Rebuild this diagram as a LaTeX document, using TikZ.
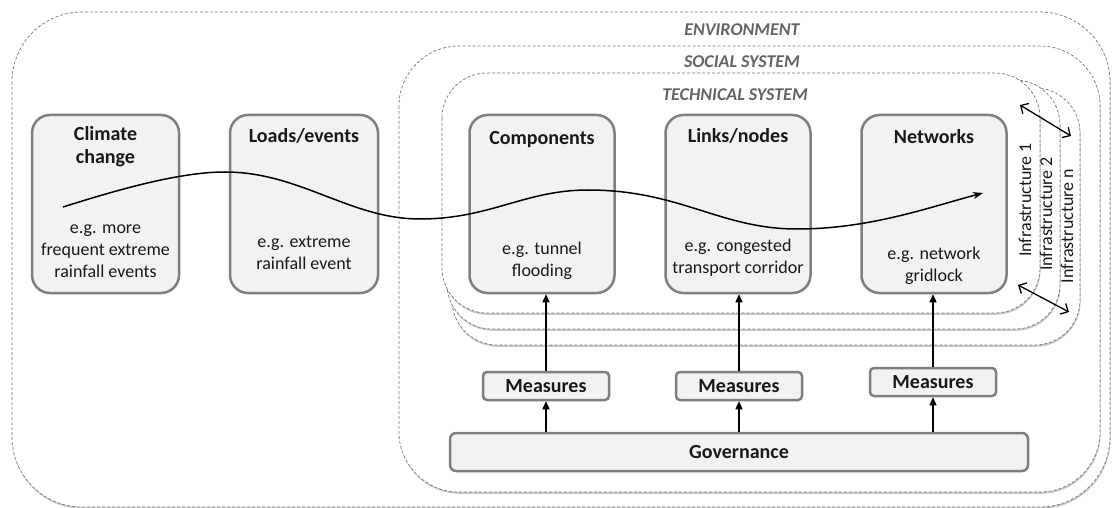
\documentclass[tikz,border=0pt]{standalone}
\usepackage{fontspec}
\setmainfont{Carlito}
\usetikzlibrary{arrows.meta,shadows,calc}
\definecolor{boxline}{RGB}{127,127,127}
\definecolor{boxfill}{RGB}{242,242,242}
\definecolor{dashc}{RGB}{120,120,120}
\definecolor{labc}{RGB}{100,100,100}
\definecolor{txtc}{RGB}{25,25,25}
\begin{document}
\begin{tikzpicture}[x=1pt,y=-1pt,
  sysbox/.style={draw=dashc, dash pattern=on 3pt off 2pt, line width=0.7pt, fill=white,
    drop shadow={shadow xshift=0.6pt, shadow yshift=-1.8pt, fill=black, opacity=0.22}},
  syslab/.style={font=\fontsize{18}{22}\selectfont\bfseries\itshape, text=labc},
  cbox/.style={draw=boxline, line width=2.5pt, fill=boxfill, rounded corners=18pt, minimum width=145pt, minimum height=178pt, inner sep=0pt},
  mbox/.style={draw=boxline, line width=2.5pt, fill=boxfill, rounded corners=4pt, minimum width=126pt, minimum height=28pt, inner sep=0pt, font=\fontsize{20}{22}\selectfont\bfseries, text=txtc},
  ttl/.style={font=\fontsize{20}{23}\selectfont\bfseries, align=center, text=txtc, inner sep=0pt},
  body/.style={font=\fontsize{18}{22}\selectfont, align=center, text=txtc, inner sep=0pt},
  inflab/.style={font=\fontsize{18}{22}\selectfont, text=txtc, rotate=90, inner sep=0pt},
  arr/.style={line width=1.3pt, -{Triangle[length=8pt,width=7pt]}},
  dbl/.style={line width=1.3pt, {Straight Barb[length=6pt,width=12pt]}-{Straight Barb[length=6pt,width=12pt]}}
]
\useasboundingbox (0,0) rectangle (1112,508);
\fill[white] (0,0) rectangle (1112,508);

% system envelopes
\draw[sysbox, rounded corners=70pt] (12,12) rectangle (1110,507);
\draw[sysbox, rounded corners=60pt] (399,46) rectangle (1100,492);
\draw[sysbox, rounded corners=45pt] (452,88) rectangle (1080,345);
\draw[sysbox, rounded corners=45pt] (447,80) rectangle (1060,329);
\draw[sysbox, rounded corners=45pt] (442,73) rectangle (1040,313);

\node[syslab] (envlab) at (742,30) {ENVIRONMENT};
\node[syslab] (soclab) at (742,62) {SOCIAL SYSTEM};
\node[syslab] (teclab) at (735,95) {TECHNICAL SYSTEM};

% main boxes
\node[cbox, minimum width=147pt] (cc) at (105.5,204) {};
\node[cbox, minimum width=148pt] (le) at (304,204) {};
\node[cbox] (co) at (542,204) {};
\node[cbox] (ln) at (738,204) {};
\node[cbox] (nw) at (934,204) {};

\node[ttl] (cct) at (105.5,147) {Climate\\change};
\node[body] (ccb) at (105.5,251) {e.g. more\\frequent extreme\\rainfall events};
\node[ttl] (let) at (304,136) {Loads/events};
\node[body] (leb) at (304,253) {e.g. extreme\\rainfall event};
\node[ttl] (cot) at (542,140) {Components};
\node[body] (cob) at (542,261) {e.g. tunnel\\flooding};
\node[ttl] (lnt) at (738,136) {Links/nodes};
\node[body] (lnb) at (738,258) {e.g. congested\\transport corridor};
\node[ttl] (nwt) at (934,137) {Networks};
\node[body] (nwb) at (934,266) {e.g. network\\gridlock};

% infrastructure labels
\node[inflab] (i1) at (1025,200) {Infrastructure 1};
\node[inflab] (i2) at (1046,214) {Infrastructure 2};
\node[inflab] (i3) at (1067,226) {Infrastructure n};

% interaction arrows
\coordinate (da1) at (1020,105);
\coordinate (db1) at (1071,136);
\coordinate (da2) at (1018,285);
\coordinate (db2) at (1069,312);
\draw[dbl] (da1) -- (db1);
\draw[dbl] (da2) -- (db2);

% measures and governance
\node[mbox] (m1) at (546,386) {Measures};
\node[mbox] (m2) at (739,386) {Measures};
\node[mbox] (m3) at (933,382) {Measures};
\node[mbox, minimum width=578pt, minimum height=38pt, rounded corners=6pt] (gov) at (739,452) {Governance};

\draw[arr] (m1.south |- gov.north) -- (m1.south);
\draw[arr] (m2.south |- gov.north) -- (m2.south);
\draw[arr] (m3.south |- gov.north) -- (m3.south);
\draw[arr] (m1.north) -- (m1.north |- co.south);
\draw[arr] (m2.north) -- (m2.north |- ln.south);
\draw[arr] (m3.north) -- (m3.north |- nw.south);

% impact wave
\coordinate (ws) at (63,207);
\coordinate (we) at (983,193);
\draw[line width=1.5pt, -{Stealth[length=10pt,width=7pt]}]
  (ws) .. controls (120,189) and (180,172) .. (225,172)
       .. controls (300,172) and (350,219) .. (420,219)
       .. controls (490,219) and (525,190) .. (588,190)
       .. controls (680,190) and (720,229) .. (797,229)
       .. controls (870,229) and (930,207) .. (we);
\end{tikzpicture}
\end{document}
